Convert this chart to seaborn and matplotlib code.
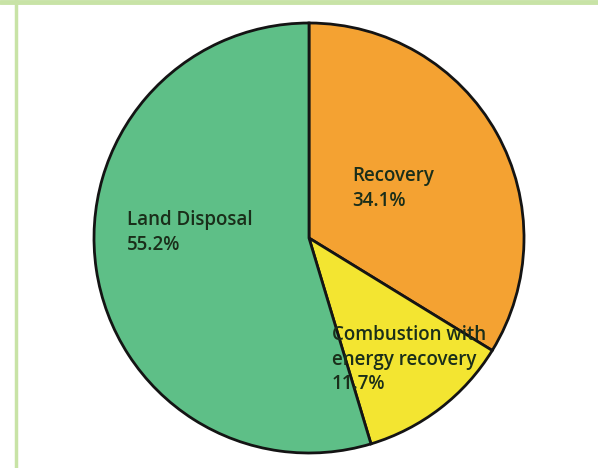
import matplotlib
matplotlib.use("Agg")
import matplotlib.pyplot as plt
from matplotlib.lines import Line2D
import seaborn as sns

sns.set_theme(style="white")
plt.rcParams['font.family'] = ['Open Sans', 'DejaVu Sans']

categories = ['Recovery', 'Combustion with\nenergy recovery', 'Land Disposal']
shares = [34.1, 11.7, 55.2]
colors = ['#F4A232', '#F3E531', '#5EBF87']

fig = plt.figure(figsize=(5.98, 4.68), dpi=100)
fig.patch.set_facecolor('white')
ax = fig.add_axes([0, 0, 1, 1])

ax.pie(shares, colors=colors, startangle=90, counterclock=False,
       radius=215, center=(309, 230), frame=True,
       wedgeprops=dict(edgecolor='#141414', linewidth=2))
ax.set_xlim(0, 598)
ax.set_ylim(0, 468)
ax.axis('off')

# labels, placed as in the original slide
label_pos = [(352, 302), (332, 143), (127, 258)]
for name, val, (x, y) in zip(categories, shares, label_pos):
    ax.text(x, y, f'{name}\n{val}%', fontsize=13.5, fontweight='semibold',
            color='#1a2e1a', ha='left', va='top', linespacing=1.3)

# light green slide frame
frame_col = '#C8E3A6'
fig.add_artist(Line2D([0, 1], [1 - 2 / 468, 1 - 2 / 468], color=frame_col, lw=3.5,
                      transform=fig.transFigure))
fig.add_artist(Line2D([15.5 / 598, 15.5 / 598], [0, 1], color=frame_col, lw=2.5,
                      transform=fig.transFigure))

fig.savefig('out.png', dpi=100)
